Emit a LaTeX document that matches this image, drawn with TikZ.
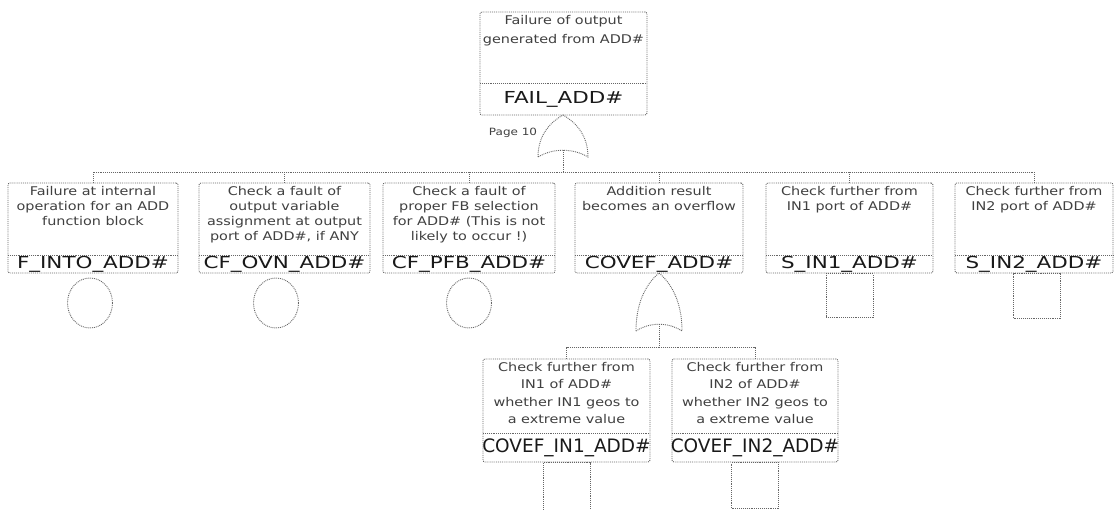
\documentclass[tikz,border=0pt]{standalone}
\usepackage{fontspec}
\setmainfont{DejaVu Sans}
\newfontfamily\descfont[FakeStretch=1.2]{DejaVu Sans}
\newfontfamily\labfont[FakeStretch=1.3]{DejaVu Sans}
\usetikzlibrary{shapes.geometric}

\tikzset{
  ln/.style={draw=black!60, densely dotted, line width=0.9pt},
  evt/.style={ln, rectangle, rounded corners=2pt, inner sep=0pt},
  desc/.style={font=\descfont\fontsize{12}{15}\selectfont, text=black!75, align=center, inner sep=0pt},
  row-d/.style={desc},
  top-d/.style={desc, font=\descfont\fontsize{12}{19}\selectfont},
  low-d/.style={desc, font=\descfont\fontsize{12}{17.5}\selectfont},
  row-l/.style={font=\labfont\fontsize{16.5}{18}\selectfont, text=black!90, inner sep=0pt},
  top-l/.style={row-l},
  low-l/.style={font=\fontsize{18.5}{20}\selectfont, text=black!90, inner sep=0pt},
  basic/.style={ln, ellipse, minimum width=45pt, minimum height=50pt, inner sep=0pt},
  xfer/.style={ln, rectangle, inner sep=0pt, minimum width=47pt},
}

% event box: name, left, top, right, bottom, divider, description, label, kind
\newcommand\evbox[9]{%
  \node[evt, minimum width={(#4-#2)*1pt}, minimum height={(#5-#3)*1pt}] (#1)
    at ({(#2+#4)/2},{(#3+#5)/2}) {};
  \draw[ln] (#2,#6) -- (#4,#6);
  \node[#9-d, anchor=north] (#1-d) at ({(#2+#4)/2},{#3+3}) {#7};
  \node[#9-l] (#1-l) at ({(#2+#4)/2},{(#6+#5)/2+0.5}) {#8};
}

% OR gate: name, apex x, apex y, half width, height
\newcommand\orgate[5]{%
  \draw[ln] ({#2-#4},{#3+#5})
    .. controls ({#2-#4},{#3+0.45*#5}) and ({#2-0.45*#4},{#3+0.15*#5}) .. (#2,#3)
    .. controls ({#2+0.45*#4},{#3+0.15*#5}) and ({#2+#4},{#3+0.45*#5}) .. ({#2+#4},{#3+#5})
    .. controls ({#2+0.4*#4},{#3+#5-9}) and ({#2-0.4*#4},{#3+#5-9}) .. cycle;
  \coordinate (#1-out) at (#2,#3);
  \coordinate (#1-in) at (#2,{#3+#5-6.75});
}

\begin{document}
\begin{tikzpicture}[x=1pt, y=-1pt]
\useasboundingbox (0,0) rectangle (1117,509);
\fill[white] (0,0) rectangle (1117,509);

% top event
\evbox{T}{480}{12}{647}{115}{83}{Failure of output\\generated from ADD\#}{FAIL\_ADD\#}{top}
\orgate{g0}{563}{115}{25}{42}
\node[font=\descfont\fontsize{10}{12}\selectfont, text=black!75, inner sep=0pt] (pg) at (513,133) {Page 10};

% first level
\evbox{B1}{8}{183}{178}{273}{255}{Failure at internal\\operation for an ADD\\function block}{F\_INTO\_ADD\#}{row}
\evbox{B2}{199}{183}{370}{273}{255}{Check a fault of\\output variable\\assignment at output\\port of ADD\#, if ANY}{CF\_OVN\_ADD\#}{row}
\evbox{B3}{383}{183}{555}{273}{255}{Check a fault of\\proper FB selection\\for ADD\# (This is not\\likely to occur !)}{CF\_PFB\_ADD\#}{row}
\evbox{B4}{575}{183}{743}{273}{255}{Addition result\\becomes an overflow}{COVEF\_ADD\#}{row}
\evbox{B5}{766}{183}{933}{273}{255}{Check further from\\IN1 port of ADD\#}{S\_IN1\_ADD\#}{row}
\evbox{B6}{955}{183}{1113}{273}{255}{Check further from\\IN2 port of ADD\#}{S\_IN2\_ADD\#}{row}

% bus under the top gate
\coordinate (bus0) at (563,172);
\draw[ln] (g0-in) -- (bus0);
\draw[ln] (B1.north) |- (bus0) -| (B6.north);
\foreach \n in {B2,B3,B4,B5} \draw[ln] (\n.north) -- (\n.north |- bus0);

% basic events
\node[basic] (B1-e) at (90,303) {};
\node[basic] (B2-e) at (276,303) {};
\node[basic] (B3-e) at (469,303) {};

% transfers
\node[xfer, minimum height=44pt, anchor=north] (B5-t) at (B5.south) {};
\node[xfer, minimum height=45pt, anchor=north] (B6-t) at ([xshift=3pt]B6.south) {};

% overflow branch
\orgate{g1}{659}{273}{23}{58}
\evbox{L1}{483}{359}{650}{462}{433}{Check further from\\IN1 of ADD\#\\whether IN1 geos to\\a extreme value}{COVEF\_IN1\_ADD\#}{low}
\evbox{L2}{672}{359}{838}{462}{433}{Check further from\\IN2 of ADD\#\\whether IN2 geos to\\a extreme value}{COVEF\_IN2\_ADD\#}{low}
\coordinate (bus1) at (659,347);
\draw[ln] (g1-in) -- (bus1);
\draw[ln] (L1.north) |- (bus1) -| (L2.north);
\node[xfer, minimum height=52pt, anchor=north] (L1-t) at (L1.south) {};
\node[xfer, minimum height=46pt, anchor=north] (L2-t) at (L2.south) {};
\end{tikzpicture}
\end{document}
